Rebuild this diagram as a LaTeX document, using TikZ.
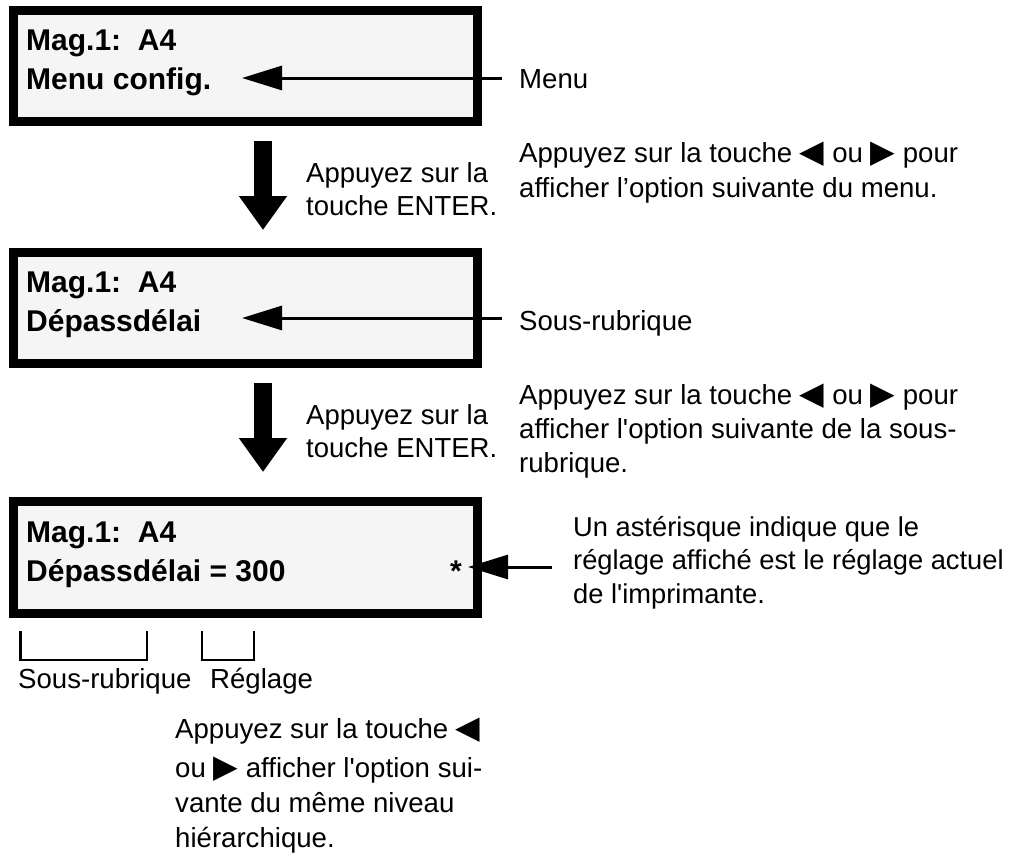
\documentclass[tikz,border=0pt]{standalone}
\usepackage{fontspec}
\setmainfont{Liberation Sans}[Ligatures=TeXOff]
\usetikzlibrary{arrows.meta, positioning, calc}

\begin{document}
\begin{tikzpicture}[x=1pt, y=-1pt, >=Stealth]

        % --- styles ---
        \tikzstyle{panel} = [rectangle, draw=black, line width=9pt, fill=black!4, minimum width=464pt, minimum height=111pt, inner sep=0pt]
        \tikzstyle{screen} = [anchor=base west, font=\fontsize{30}{39}\selectfont\bfseries, inner sep=0pt, align=left]
        \tikzstyle{note} = [anchor=base west, font=\fontsize{27.6}{35}\selectfont, inner sep=0pt, align=left]
        \tikzstyle{pointer} = [line width=3pt, -{Triangle[length=40pt, width=24pt]}]
        \tikzstyle{bigarrow} = [line width=18pt, -{Triangle[length=34pt, width=46pt]}]
        \tikzstyle{bracket} = [line width=2.4pt]

        \newcommand{\tri}[1]{{\fontspec{DejaVu Sans}\fontsize{32}{35}\selectfont #1}}

        \useasboundingbox (0,0) rectangle (1012,857);

        % --- panels ---
        \node (panelA) [panel] at (245.5,66) {};
        \node (panelB) [panel] at (245.5,308) {};
        \node (panelC) [panel, minimum height=112pt] at (245.5,557.5) {};

        \node (magA) [screen] at (26,50) {Mag.1:\ \ A4};
        \node (textA) [screen] at (26,89) {Menu config.};
        \node (magB) [screen] at (26,292) {Mag.1:\ \ A4};
        \node (textB) [screen] at (26,331) {Dépassdélai};
        \node (magC) [screen] at (26,542) {Mag.1:\ \ A4};
        \node (textC) [screen] at (26,581) {Dépassdélai = 300};
        \node (star) [screen] at (450,581) {*};

        % --- notes ---
        \node (menu) [note] at (519,88) {Menu};
        \node (sous) [note] at (519,330) {Sous-rubrique};
        \node (enterA) [note, font=\fontsize{27.5}{33}\selectfont] at (306,215) {Appuyez sur la\\touche ENTER.};
        \node (enterB) [note, font=\fontsize{27.5}{33}\selectfont] at (306,457) {Appuyez sur la\\touche ENTER.};
        \node (optA) [note] at (519,197) {Appuyez sur la touche \tri{◀} ou \tri{▶} pour\\afficher l’option suivante du menu.};
        \node (optB) [note, font=\fontsize{27.6}{34}\selectfont] at (519,472) {Appuyez sur la touche \tri{◀} ou \tri{▶} pour\\afficher l'option suivante de la sous-\\rubrique.};
        \node (aster) [note, font=\fontsize{27.3}{33.5}\selectfont] at (573,603) {Un astérisque indique que le\\réglage affiché est le réglage actuel\\de l'imprimante.};
        \node (labSous) [note] at (18,688) {Sous-rubrique};
        \node (labRegl) [note] at (210,688) {Réglage};
        \node (same) [note] at (175,847) {Appuyez sur la touche \tri{◀}\\[4pt]ou \tri{▶} afficher l'option sui-\\vante du même niveau\\hiérarchique.};

        % --- pointers ---
        \coordinate (tipA) at (242,78);
        \coordinate (tipB) at (242,318);
        \coordinate (tipC) at (468,567);
        \coordinate (tailC) at (552,567);
        \draw[pointer] (menu.west |- tipA) ++(-17,0) -- (tipA);
        \draw[pointer] (sous.west |- tipB) ++(-17,0) -- (tipB);
        \draw[pointer] (tailC) -- (tipC);

        \coordinate (topA) at (263,141);
        \coordinate (endA) at (263,230);
        \coordinate (topB) at (263,383);
        \coordinate (endB) at (263,472);
        \draw[bigarrow] (topA) -- (endA);
        \draw[bigarrow] (topB) -- (endB);

        % --- brackets ---
        \draw[bracket] (20.5,631) -- (20.5,660) -- (147,660) -- (147,631);
        \draw[bracket] (202,631) -- (202,660) -- (254,660) -- (254,631);

\end{tikzpicture}
\end{document}
